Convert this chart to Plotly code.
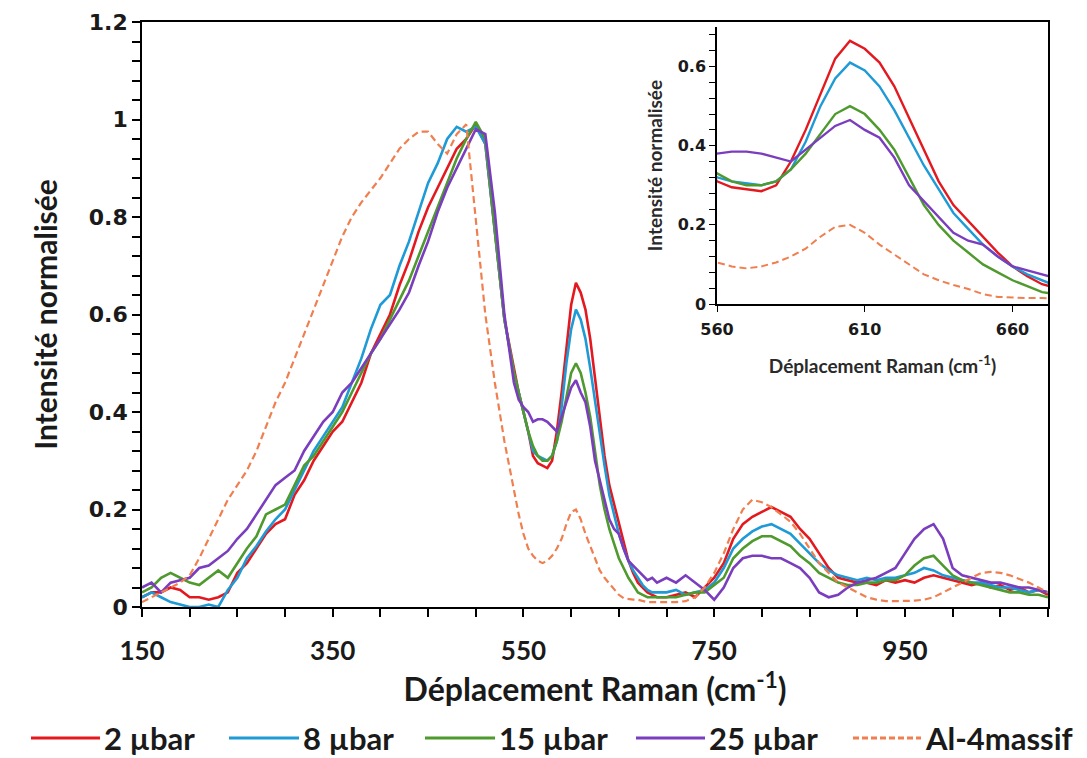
import plotly.graph_objects as go

# ---------------- data ----------------
raman_shift = [150, 160, 170, 180, 190, 200, 210, 220, 230, 240, 250, 260, 270, 280, 290,
               300, 310, 320, 330, 340, 350, 360, 370, 380, 390, 400, 410, 420, 430, 440,
               450, 460, 470, 480, 490, 500, 510, 520, 530,
               540, 545, 550, 555, 560, 565, 570, 575, 580, 585, 590, 595, 600, 605, 610,
               615, 620, 625, 630, 635, 640, 645, 650, 655, 660, 665, 670, 675, 680, 685, 690,
               700, 710, 720, 730, 740, 750, 760, 770, 780, 790, 800, 810, 820, 830, 840,
               850, 860, 870, 880, 890, 900, 910, 920, 930, 940, 950, 960, 970, 980, 990,
               1000, 1010, 1020, 1030, 1040, 1050, 1060, 1070, 1080, 1090, 1100]

i_2ubar = [0.02, 0.03, 0.03, 0.04, 0.035, 0.02, 0.02, 0.015, 0.02, 0.03, 0.07, 0.09, 0.12, 0.15, 0.17,
           0.18, 0.23, 0.26, 0.30, 0.33, 0.36, 0.38, 0.42, 0.46, 0.52, 0.56, 0.60, 0.66, 0.71, 0.77,
           0.82, 0.86, 0.90, 0.94, 0.96, 0.99, 0.95, 0.77, 0.59,
           0.49, 0.44, 0.40, 0.36, 0.31, 0.295, 0.29, 0.285, 0.30, 0.36, 0.44, 0.53, 0.62, 0.665, 0.645,
           0.61, 0.55, 0.47, 0.39, 0.31, 0.25, 0.21, 0.17, 0.13, 0.095, 0.07, 0.05, 0.04, 0.03, 0.025, 0.02,
           0.02, 0.025, 0.03, 0.02, 0.04, 0.06, 0.09, 0.14, 0.17, 0.185, 0.195, 0.205, 0.195, 0.185, 0.16,
           0.14, 0.11, 0.08, 0.06, 0.055, 0.05, 0.05, 0.045, 0.055, 0.05, 0.055, 0.05, 0.06, 0.065, 0.06,
           0.055, 0.05, 0.045, 0.05, 0.04, 0.045, 0.035, 0.04, 0.03, 0.035, 0.025]

i_8ubar = [0.02, 0.03, 0.02, 0.01, 0.005, 0.0, 0.0, 0.005, 0.0, 0.035, 0.06, 0.10, 0.125, 0.155, 0.18,
           0.20, 0.24, 0.28, 0.32, 0.35, 0.38, 0.41, 0.46, 0.51, 0.57, 0.62, 0.64, 0.70, 0.75, 0.81,
           0.87, 0.91, 0.96, 0.985, 0.975, 0.985, 0.95, 0.77, 0.59,
           0.48, 0.44, 0.40, 0.36, 0.32, 0.31, 0.305, 0.30, 0.31, 0.34, 0.41, 0.50, 0.57, 0.61, 0.59,
           0.55, 0.49, 0.42, 0.35, 0.29, 0.23, 0.19, 0.15, 0.12, 0.095, 0.075, 0.06, 0.045, 0.035, 0.03, 0.03,
           0.03, 0.035, 0.025, 0.03, 0.035, 0.05, 0.08, 0.12, 0.14, 0.155, 0.165, 0.17, 0.16, 0.15, 0.13,
           0.11, 0.09, 0.075, 0.065, 0.06, 0.055, 0.06, 0.055, 0.06, 0.06, 0.065, 0.07, 0.08, 0.075, 0.065,
           0.06, 0.055, 0.05, 0.05, 0.045, 0.04, 0.04, 0.035, 0.03, 0.035, 0.03]

i_15ubar = [0.03, 0.04, 0.06, 0.07, 0.06, 0.05, 0.045, 0.06, 0.075, 0.06, 0.09, 0.12, 0.145, 0.19, 0.20,
            0.21, 0.25, 0.29, 0.31, 0.34, 0.37, 0.40, 0.44, 0.48, 0.52, 0.55, 0.59, 0.63, 0.67, 0.72,
            0.77, 0.82, 0.87, 0.92, 0.96, 0.995, 0.96, 0.78, 0.59,
            0.48, 0.44, 0.40, 0.36, 0.33, 0.31, 0.30, 0.30, 0.31, 0.34, 0.38, 0.43, 0.48, 0.50, 0.48,
            0.44, 0.39, 0.32, 0.25, 0.20, 0.16, 0.13, 0.10, 0.08, 0.06, 0.045, 0.03, 0.025, 0.02, 0.02, 0.02,
            0.02, 0.02, 0.025, 0.03, 0.03, 0.045, 0.06, 0.10, 0.12, 0.135, 0.145, 0.145, 0.135, 0.125, 0.105,
            0.09, 0.07, 0.06, 0.05, 0.045, 0.045, 0.05, 0.05, 0.055, 0.055, 0.065, 0.085, 0.10, 0.105, 0.085,
            0.065, 0.055, 0.05, 0.045, 0.04, 0.035, 0.03, 0.03, 0.025, 0.025, 0.02]

i_25ubar = [0.04, 0.05, 0.03, 0.05, 0.055, 0.06, 0.08, 0.085, 0.10, 0.115, 0.14, 0.16, 0.19, 0.22, 0.25,
            0.265, 0.28, 0.32, 0.35, 0.38, 0.40, 0.44, 0.46, 0.49, 0.52, 0.55, 0.58, 0.61, 0.645, 0.70,
            0.75, 0.81, 0.86, 0.90, 0.94, 0.98, 0.97, 0.81, 0.60,
            0.46, 0.425, 0.41, 0.40, 0.38, 0.385, 0.385, 0.38, 0.37, 0.36, 0.39, 0.42, 0.45, 0.465, 0.44,
            0.42, 0.37, 0.30, 0.26, 0.22, 0.18, 0.16, 0.15, 0.12, 0.095, 0.085, 0.075, 0.065, 0.055, 0.06, 0.05,
            0.06, 0.05, 0.065, 0.05, 0.035, 0.015, 0.04, 0.08, 0.10, 0.105, 0.105, 0.10, 0.10, 0.09, 0.08,
            0.06, 0.03, 0.02, 0.025, 0.04, 0.05, 0.055, 0.06, 0.07, 0.08, 0.11, 0.14, 0.16, 0.17, 0.14,
            0.08, 0.065, 0.06, 0.055, 0.05, 0.05, 0.045, 0.04, 0.04, 0.035, 0.03]

i_al4massif = [0.01, 0.02, 0.03, 0.04, 0.05, 0.065, 0.10, 0.14, 0.18, 0.22, 0.25, 0.28, 0.32, 0.37, 0.42,
               0.46, 0.51, 0.56, 0.61, 0.66, 0.71, 0.76, 0.80, 0.83, 0.855, 0.88, 0.91, 0.94, 0.96, 0.975,
               0.975, 0.95, 0.93, 0.97, 0.99, 0.79, 0.60, 0.46, 0.34,
               0.24, 0.19, 0.15, 0.12, 0.105, 0.095, 0.09, 0.095, 0.105, 0.12, 0.14, 0.17, 0.195, 0.20, 0.18,
               0.15, 0.125, 0.10, 0.075, 0.06, 0.048, 0.038, 0.025, 0.018, 0.016, 0.015, 0.015, 0.012, 0.01, 0.01, 0.01,
               0.01, 0.01, 0.012, 0.02, 0.04, 0.07, 0.11, 0.16, 0.20, 0.22, 0.215, 0.205, 0.19, 0.175, 0.15,
               0.12, 0.09, 0.07, 0.05, 0.04, 0.03, 0.02, 0.015, 0.012, 0.012, 0.012, 0.013, 0.015, 0.02, 0.03,
               0.04, 0.05, 0.06, 0.07, 0.072, 0.07, 0.065, 0.058, 0.05, 0.04, 0.03]

series_names = ["2 µbar", "8 µbar", "15 µbar", "25 µbar", "Al-4massif"]
series_values = [i_2ubar, i_8ubar, i_15ubar, i_25ubar, i_al4massif]
series_colors = ["#E3191F", "#1E9AD6", "#4F9A2E", "#7A3DBE", "#F07F50"]
series_dash = ["solid", "solid", "solid", "solid", "7px,4px"]

# tick labels
main_x_tick_labels = ["150", "350", "550", "750", "950"]
main_y_tick_labels = ["0", "0.2", "0.4", "0.6", "0.8", "1", "1.2"]
inset_x_tick_labels = ["560", "610", "660"]
inset_y_tick_labels = ["0", "0.2", "0.4", "0.6"]

# tick marks: every 50 cm-1 on x (labelled every 200), every 0.04 on y (labelled every 0.2)
main_x_tickvals = [150 + 50 * k for k in range(20)]
main_x_ticktext = [str(v) if str(v) in main_x_tick_labels else "" for v in main_x_tickvals]
main_y_tickvals = [round(0.04 * k, 2) for k in range(31)]
main_y_ticktext = [("%g" % v) if ("%g" % v) in main_y_tick_labels else "" for v in main_y_tickvals]
inset_x_tickvals = [float(t) for t in inset_x_tick_labels]
inset_y_tickvals = [round(0.04 * k, 2) for k in range(18)]
inset_y_ticktext = [("%g" % v) if ("%g" % v) in inset_y_tick_labels else "" for v in inset_y_tickvals]

# ---------------- figure geometry (pixels) ----------------
W, H = 1087, 758
L, R, T, B = 142, 1048, 22, 607
PW, PH = R - L, B - T


def px_x(px):
    return (px - L) / PW


def px_y(py):
    return (B - py) / PH


fig = go.Figure()

for name, vals, col, dash in zip(series_names, series_values, series_colors, series_dash):
    lw = 2.2 if dash != "solid" else 2.6
    fig.add_trace(go.Scatter(x=raman_shift, y=vals, mode="lines", name=name,
                             line=dict(color=col, width=lw, dash=dash),
                             xaxis="x", yaxis="y", showlegend=False))
for name, vals, col, dash in zip(series_names, series_values, series_colors, series_dash):
    lw = 2.0 if dash != "solid" else 2.4
    fig.add_trace(go.Scatter(x=raman_shift, y=vals, mode="lines", name=name,
                             line=dict(color=col, width=lw, dash=dash),
                             xaxis="x2", yaxis="y2", showlegend=False))

tick_font_main_x = dict(family="Lato", size=26, color="#1a1a1a", weight="bold")
tick_font_main_y = dict(family="DejaVu Sans", size=22, color="#1a1a1a", weight="bold")
title_font = dict(family="Lato", size=32, color="#1a1a1a", weight="bold")
ytitle_font = dict(family="Lato", size=30, color="#1a1a1a", weight="bold")
inset_tick_font = dict(family="DejaVu Sans", size=16, color="#1a1a1a", weight="bold")
inset_title_font = dict(family="Lato", size=19, color="#2a2a2a", weight="bold")

fig.update_layout(
    width=W, height=H,
    margin=dict(l=L, r=W - R, t=T, b=H - B),
    paper_bgcolor="white", plot_bgcolor="white",
    showlegend=False,
    xaxis=dict(range=[150, 1100], domain=[0, 1], tickmode="array",
               tickvals=main_x_tickvals, ticktext=main_x_ticktext,
               ticks="outside", ticklen=8, tickwidth=1.5, tickcolor="black",
               showline=True, linecolor="black", linewidth=1.6, mirror=True,
               showgrid=False, zeroline=False, tickfont=tick_font_main_x,
               ticklabelstandoff=12,
               title=dict(text="Déplacement Raman (cm<sup>-1</sup>)", font=title_font, standoff=4),
               automargin=False),
    yaxis=dict(range=[0, 1.2], domain=[0, 1], tickmode="array",
               tickvals=main_y_tickvals, ticktext=main_y_ticktext,
               ticks="outside", ticklen=8, tickwidth=1.5, tickcolor="black",
               showline=True, linecolor="black", linewidth=1.6, mirror=True,
               showgrid=False, zeroline=False, tickfont=tick_font_main_y,
               title=dict(text="Intensité normalisée", font=ytitle_font, standoff=22),
               automargin=False),
    xaxis2=dict(range=[560, 672], domain=[px_x(717), 1.0], anchor="y2",
                tickmode="array", tickvals=inset_x_tickvals, ticktext=inset_x_tick_labels,
                ticks="outside", ticklen=6, tickwidth=1.3,
                tickcolor="black", showline=True, linecolor="black", linewidth=1.5,
                showgrid=False, zeroline=False, tickfont=inset_tick_font,
                ticklabelstandoff=4,
                title=dict(text="Déplacement Raman (cm<sup>-1</sup>)", font=inset_title_font, standoff=22),
                automargin=False),
    yaxis2=dict(range=[0, 0.7], domain=[px_y(304), px_y(27)], anchor="x2",
                tickmode="array", tickvals=inset_y_tickvals, ticktext=inset_y_ticktext,
                ticks="outside", ticklen=6, tickwidth=1.2,
                tickcolor="black", showline=True, linecolor="black", linewidth=1.5,
                showgrid=False, zeroline=False, tickfont=inset_tick_font,
                title=dict(text="Intensité normalisée", font=inset_title_font, standoff=10),
                automargin=False),
)

# ---------------- legend (drawn below the chart) ----------------
legend_y_px = 738
legend_items = [(31, 100, 102), (229, 299, 301), (425, 495, 497), (636, 705, 707), (853, 921, 923)]
for (x0, x1, xt), name, col, dash in zip(legend_items, series_names, series_colors, series_dash):
    fig.add_shape(type="line", xref="paper", yref="paper",
                  x0=px_x(x0), x1=px_x(x1), y0=px_y(legend_y_px), y1=px_y(legend_y_px),
                  line=dict(color=col, width=3, dash="6px,3px" if dash != "solid" else "solid"))
    fig.add_annotation(xref="paper", yref="paper", x=px_x(xt), y=px_y(legend_y_px),
                       text=name, showarrow=False, xanchor="left", yanchor="middle",
                       font=dict(family="Lato", size=31, color="#1a1a1a", weight="bold"))

fig.write_html("out.html")
